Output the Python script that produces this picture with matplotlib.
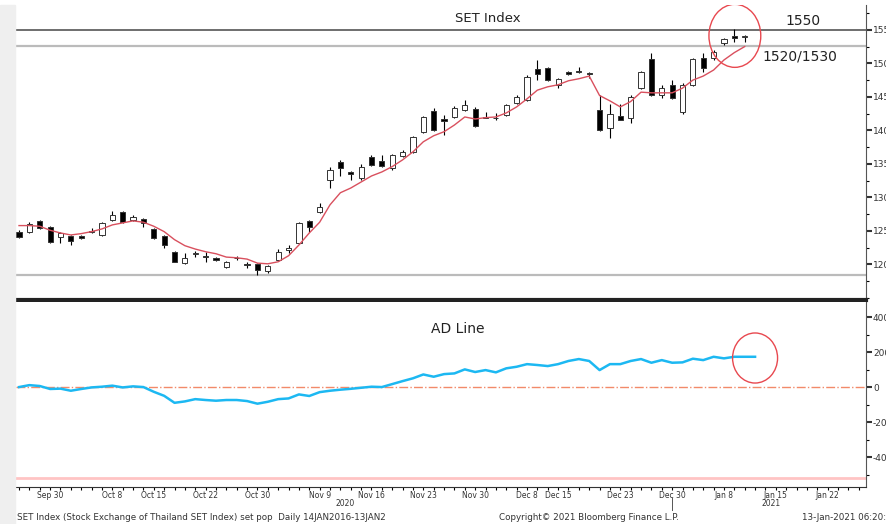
import matplotlib
matplotlib.use('Agg')
import numpy as np
import pandas as pd
import matplotlib.pyplot as plt
from matplotlib.patches import Ellipse, Rectangle
from matplotlib.ticker import MultipleLocator, FixedLocator

# trading calendar (SET holidays in the window)
holidays = ['2020-10-13', '2020-10-23', '2020-12-07', '2020-12-10', '2020-12-11',
            '2020-12-31', '2021-01-01']
dates = pd.bdate_range('2020-09-25', '2021-01-29', freq='C', holidays=holidays)

# daily OHLC of the SET index, 25 Sep 2020 - 12 Jan 2021
opens = [1249, 1249, 1265, 1256, 1241, 1243, 1243, 1248, 1244, 1266,
         1278, 1266, 1268, 1253, 1243, 1219, 1202, 1215, 1213, 1210,
         1196, 1209, 1200, 1201, 1190, 1207, 1222, 1232, 1265, 1278,
         1326, 1353, 1338, 1329, 1360, 1354, 1344, 1362, 1368, 1398,
         1429, 1417, 1420, 1431, 1432, 1419, 1418, 1423, 1441, 1446,
         1492, 1493, 1468, 1487, 1489, 1486, 1431, 1404, 1422, 1419,
         1463, 1507, 1453, 1468, 1428, 1468, 1508, 1508, 1531, 1541, 1540]
highs = [1252, 1263, 1266, 1257, 1249, 1244, 1244, 1254, 1263, 1280,
         1279, 1274, 1269, 1254, 1244, 1220, 1217, 1220, 1219, 1211,
         1205, 1213, 1204, 1202, 1199, 1223, 1229, 1263, 1266, 1292,
         1346, 1356, 1340, 1350, 1363, 1363, 1365, 1371, 1392, 1422,
         1434, 1423, 1436, 1446, 1435, 1428, 1426, 1440, 1453, 1483,
         1505, 1495, 1478, 1489, 1494, 1487, 1453, 1440, 1440, 1453,
         1489, 1516, 1468, 1475, 1470, 1508, 1516, 1520, 1538, 1551, 1542]
lows = [1240, 1247, 1253, 1232, 1232, 1229, 1238, 1247, 1243, 1265,
        1262, 1265, 1256, 1238, 1225, 1203, 1201, 1211, 1204, 1205,
        1195, 1206, 1195, 1184, 1187, 1205, 1217, 1230, 1249, 1277,
        1314, 1332, 1326, 1326, 1347, 1346, 1341, 1360, 1366, 1396,
        1399, 1393, 1419, 1429, 1405, 1418, 1416, 1422, 1440, 1444,
        1475, 1474, 1463, 1483, 1486, 1478, 1399, 1389, 1416, 1411,
        1462, 1452, 1449, 1447, 1425, 1466, 1487, 1505, 1528, 1532, 1532]
closes = [1241, 1260, 1254, 1234, 1247, 1235, 1240, 1250, 1262, 1274,
          1263, 1271, 1262, 1240, 1229, 1204, 1210, 1217, 1211, 1207,
          1204, 1210, 1199, 1192, 1198, 1219, 1224, 1262, 1256, 1286,
          1341, 1344, 1335, 1346, 1349, 1347, 1363, 1368, 1390, 1420,
          1401, 1414, 1434, 1438, 1407, 1420, 1419, 1438, 1450, 1480,
          1484, 1475, 1477, 1484, 1487, 1484, 1401, 1425, 1416, 1450,
          1487, 1453, 1463, 1449, 1468, 1507, 1493, 1517, 1537, 1538, 1541]
moving_avg = [1258, 1258, 1257, 1251, 1247, 1244, 1246, 1249, 1253, 1259,
              1262, 1265, 1263, 1257, 1249, 1237, 1228, 1223, 1219, 1216,
              1211, 1210, 1208, 1202, 1201, 1204, 1213, 1229, 1247, 1263,
              1289, 1307, 1314, 1323, 1332, 1338, 1346, 1356, 1368, 1383,
              1392, 1398, 1408, 1420, 1417, 1419, 1420, 1426, 1435, 1447,
              1460, 1465, 1468, 1474, 1477, 1481, 1452, 1444, 1435, 1443,
              1457, 1456, 1456, 1456, 1463, 1475, 1481, 1490, 1505, 1516, 1525]
# advance/decline line (one extra point for 13 Jan)
ad_line = [0, 11, 6, -11, -9, -21, -11, -2, 2, 8,
           -2, 4, 0, -27, -50, -90, -82, -69, -74, -78,
           -74, -74, -80, -95, -84, -69, -65, -42, -51, -29,
           -21, -15, -10, -4, 2, 0, 17, 34, 50, 72,
           59, 74, 78, 101, 86, 97, 84, 107, 116, 131,
           126, 120, 131, 149, 160, 149, 97, 131, 131, 149,
           160, 139, 154, 139, 141, 162, 154, 173, 164, 173, 173, 173]

tick_dates = ['2020-09-30', '2020-10-08', '2020-10-15', '2020-10-22', '2020-10-30',
              '2020-11-09', '2020-11-16', '2020-11-23', '2020-11-30', '2020-12-08',
              '2020-12-15', '2020-12-23', '2020-12-30', '2021-01-08', '2021-01-15',
              '2021-01-22']
set_ticks = [1200, 1250, 1300, 1350, 1400, 1450, 1500, 1550]
ad_ticks = [-400, -200, 0, 200, 400]
resistance = 1550
support = 1526
lower_band = 1184
ad_floor = -520

narrow = ['Liberation Sans Narrow', 'DejaVu Sans']

W, H = 886, 524
fig = plt.figure(figsize=(W / 100, H / 100), dpi=100)
fig.patches.append(Rectangle((0, 0), 15 / W, 1 - 5 / H, transform=fig.transFigure,
                             color='#efefef', zorder=0))

left, right = 16 / W, 866 / W
ax1 = fig.add_axes([left, 1 - 300 / H, right - left, 295 / H])
ax2 = fig.add_axes([left, 1 - 487 / H, right - left, 185 / H])

pos = np.arange(1, len(closes) + 1)
xlim = (0.71, 82.7)

# ---- upper panel: candles ----
for x, o, h, l, c in zip(pos, opens, highs, lows, closes):
    ax1.vlines(x, l, h, color='black', linewidth=0.8, zorder=3)
    fill = 'black' if c < o else 'white'
    ax1.bar(x, max(abs(c - o), 0.8), bottom=min(o, c), width=0.5, color=fill,
            edgecolor='#333333', linewidth=0.7, zorder=4)
ax1.plot(pos, moving_avg, color='#d9505e', linewidth=1.0, zorder=5)

ax1.axhline(resistance, color='#555555', linewidth=1.2, zorder=2)
ax1.axhline(support, color='#bbbbbb', linewidth=1.6, zorder=2)
ax1.axhline(lower_band, color='#bbbbbb', linewidth=1.6, zorder=2)

ax1.add_patch(Ellipse((70.05, 1541), 5.0, 94, fill=False, edgecolor='#e8484f',
                      linewidth=1.0, zorder=6))

ax1.set_xlim(*xlim)
ax1.set_ylim(1147, 1587)
ax1.yaxis.tick_right()
ax1.set_yticks(set_ticks)
ax1.set_yticklabels([str(v) for v in set_ticks])
ax1.yaxis.set_minor_locator(MultipleLocator(25))
ax1.tick_params(axis='y', which='major', direction='out', length=4, width=1.5,
                labelsize=6.5, pad=1, colors='#333333')
ax1.tick_params(axis='y', which='minor', direction='out', length=2, width=0.8)
ax1.tick_params(axis='x', which='both', bottom=False, labelbottom=False)
for s in ['top', 'left']:
    ax1.spines[s].set_visible(False)
ax1.spines['bottom'].set_linewidth(3)
ax1.spines['bottom'].set_color('#222222')
ax1.spines['right'].set_color('#555555')

# ---- lower panel: AD line ----
ad_pos = np.arange(1, len(ad_line) + 1)
ax2.plot(ad_pos, ad_line, color='#1cb8f2', linewidth=1.8, zorder=4)
ax2.axhline(0, color='#f28a6a', linewidth=1.0, linestyle='-.', zorder=2)
ax2.axhline(ad_floor, color='#ffc4c4', linewidth=2.0, zorder=2)
ax2.add_patch(Ellipse((72.0, 166), 4.34, 286, fill=False, edgecolor='#e8484f',
                      linewidth=1.0, zorder=6))

ax2.set_xlim(*xlim)
ax2.set_ylim(-571, 486)
ax2.yaxis.tick_right()
ax2.set_yticks(ad_ticks)
ax2.set_yticklabels([str(v) for v in ad_ticks])
ax2.yaxis.set_minor_locator(MultipleLocator(100))
ax2.tick_params(axis='y', which='major', direction='out', length=4, width=1.5,
                labelsize=6.5, pad=1, colors='#333333')
ax2.tick_params(axis='y', which='minor', direction='out', length=2, width=0.8)
for s in ['top', 'left']:
    ax2.spines[s].set_visible(False)
ax2.spines['bottom'].set_color('#333333')
ax2.spines['right'].set_color('#555555')

date_list = list(dates)
all_pos = np.arange(1, len(date_list) + 1)
tick_pos = [date_list.index(pd.Timestamp(d)) + 1 for d in tick_dates]
tick_lbl = ['{} {}'.format(pd.Timestamp(d).strftime('%b'), pd.Timestamp(d).day) for d in tick_dates]
ax2.xaxis.set_major_locator(FixedLocator(tick_pos))
ax2.set_xticklabels(tick_lbl, family=narrow, fontsize=5.5, color='#333333')
ax2.xaxis.set_minor_locator(FixedLocator(all_pos))
ax2.tick_params(axis='x', which='major', length=2.5, width=0.8, pad=0.5)
ax2.tick_params(axis='x', which='minor', length=2.5, width=0.8)

# year labels and year break
years = np.array([d.year for d in date_list])
for yr in (2020, 2021):
    p = all_pos[years == yr]
    p = p[(p >= xlim[0]) & (p <= xlim[1])]
    ax2.text(p.mean(), -0.088, str(yr), transform=ax2.get_xaxis_transform(),
             ha='center', va='center', fontsize=5.5, family=narrow, color='#333333')
last_2020 = all_pos[years == 2020][-1]
ax2.plot([last_2020, last_2020], [-0.06, -0.125], transform=ax2.get_xaxis_transform(),
         color='#555555', linewidth=0.7, clip_on=False)

# ---- annotations ----
fig.text(488 / W, 1 - 18 / H, 'SET Index', ha='center', va='center', fontsize=9.5, color='#222222')
fig.text(803 / W, 1 - 21 / H, '1550', ha='center', va='center', fontsize=10, color='#222222')
fig.text(800 / W, 1 - 57 / H, '1520/1530', ha='center', va='center', fontsize=10, color='#222222')
fig.text(458 / W, 1 - 329 / H, 'AD Line', ha='center', va='center', fontsize=10, color='#222222')

fig.text(17 / W, 1 - 518 / H,
         'SET Index (Stock Exchange of Thailand SET Index) set pop  Daily 14JAN2016-13JAN2',
         ha='left', va='center', fontsize=6.3, family=narrow, color='#333333')
fig.text(589 / W, 1 - 518 / H, 'Copyright\u00a9 2021 Bloomberg Finance L.P.',
         ha='center', va='center', fontsize=6.3, family=narrow, color='#333333')
fig.text(802 / W, 1 - 518 / H, '13-Jan-2021 06:20:48',
         ha='left', va='center', fontsize=6.3, family=narrow, color='#333333')

fig.savefig('out.png', dpi=100)
